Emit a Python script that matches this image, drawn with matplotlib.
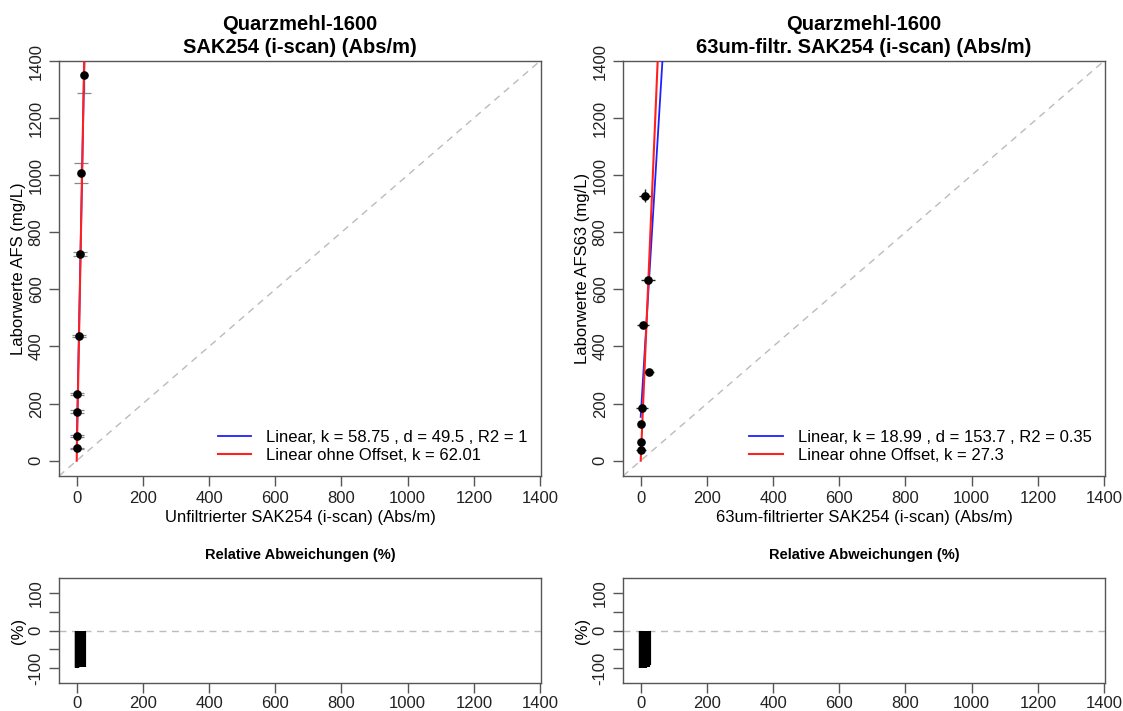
import numpy as np
import matplotlib
matplotlib.use('Agg')
import matplotlib.pyplot as plt

plt.rcParams['font.family'] = ['Liberation Sans', 'DejaVu Sans']

# --- data ---
# left: unfiltered SAK254 vs AFS
sak_x = [21, 14, 10, 7, 2, 2, 0, 1]
afs_y = [1350, 1008, 724, 437, 234, 172, 87, 43]
afs_yerr = [62, 34, 6, 5, 4, 4, 3, 3]
sak_xerr = [4, 4, 5, 5, 4, 4, 4, 4]
dev_left = [-98.4, -98.6, -98.6, -98.4, -99.1, -98.8, -100.0, -97.7]
k_left, d_left, r2_left, k0_left = 58.75, 49.5, 1, 62.01

# right: 63um-filtered SAK254 vs AFS63
sak63_x = [12, 22, 7, 25, 3, 1, 0, 0.5]
afs63_y = [928, 633, 476, 311, 186, 129, 65, 38]
afs63_yerr = [22, 10, 10, 8, 8, 6, 6, 6]
sak63_xerr = [18, 20, 18, 14, 18, 6, 6, 14]
dev_right = [-98.7, -96.5, -98.5, -92.0, -98.4, -99.2, -100.0, -98.7]
k_right, d_right, r2_right, k0_right = 18.99, 153.7, 0.35, 27.3

xticks = [0, 200, 400, 600, 800, 1000, 1200, 1400]
yticks = [0, 200, 400, 600, 800, 1000, 1200, 1400]
dev_ticks = [-100, -50, 0, 50, 100]
dev_labels = ['-100', '', '0', '', '100']

frame = '#555555'


def style_axes(ax, xpad=4):
    for s in ax.spines.values():
        s.set_color(frame)
        s.set_linewidth(1.0)
    ax.tick_params(direction='out', length=7, width=1.0, color=frame,
                   labelsize=12, labelcolor='#222222')
    ax.tick_params(axis='x', pad=xpad)
    ax.tick_params(axis='y', pad=4)
    for lab in ax.get_yticklabels():
        lab.set_rotation(90)
        lab.set_va('center')


def main_panel(ax, x, y, xerr, yerr, k, d, r2, k0, title2, xlabel, ylabel, ecol, ycap):
    ax.set_xlim(-53.5, 1403)
    ax.set_ylim(-53.6, 1400)
    ax.axline((0, 0), (1, 1), color='#bbbbbb', lw=1.0, dashes=(5, 4), zorder=1)
    xx = np.array([0, 80])
    ax.plot(xx, k * xx + d, color='#2020ff', lw=1.3, zorder=3,
            label='Linear, k = %s , d = %s , R2 = %s' % (k, d, r2))
    ax.plot(xx, k0 * xx, color='#ff2020', lw=1.5, zorder=4,
            label='Linear ohne Offset, k = %s' % k0)
    ax.errorbar(x, y, yerr=yerr, fmt='none', ecolor=ecol,
                elinewidth=1.0, capsize=ycap, capthick=0.9, zorder=2)
    ax.errorbar(x, y, xerr=xerr, fmt='none', ecolor='#222222',
                elinewidth=1.0, capsize=0, zorder=2)
    ax.plot(x, y, 'o', color='black', ms=5.2, zorder=5)
    ax.set_xticks(xticks)
    ax.set_yticks(yticks)
    ax.set_title('Quarzmehl-1600\n' + title2, fontsize=14.5, fontweight='bold',
                 pad=6, linespacing=1.25)
    ax.set_xlabel(xlabel, fontsize=12, labelpad=3)
    ax.set_ylabel(ylabel, fontsize=12, labelpad=2)
    ax.legend(loc='lower right', frameon=False, fontsize=12, handlelength=2.0,
              handletextpad=0.9, bbox_to_anchor=(1.0, 0.0), borderaxespad=0.4,
              labelspacing=0.15)
    style_axes(ax)


def dev_panel(ax, x, dev):
    ax.set_xlim(-53.5, 1403)
    ax.set_ylim(-140, 140)
    ax.axhline(0, color='#bbbbbb', lw=1.0, dashes=(5, 4), zorder=1)
    ax.vlines(x, 0, dev, color='black', lw=3, zorder=2)
    ax.set_xticks(xticks)
    ax.set_yticks(dev_ticks)
    ax.set_yticklabels(dev_labels)
    ax.set_title('Relative Abweichungen (%)', fontsize=10.5, fontweight='bold', pad=14)
    ax.set_ylabel('(%)', fontsize=12, labelpad=2)
    style_axes(ax, xpad=2)


fig = plt.figure(figsize=(11.23, 7.11), dpi=100)
axL = fig.add_axes([59 / 1123, (711 - 476) / 711, 482 / 1123, 415 / 711])
axR = fig.add_axes([623 / 1123, (711 - 476) / 711, 482 / 1123, 415 / 711])
axLb = fig.add_axes([59 / 1123, (711 - 683) / 711, 482 / 1123, 105 / 711])
axRb = fig.add_axes([623 / 1123, (711 - 683) / 711, 482 / 1123, 105 / 711])

main_panel(axL, sak_x, afs_y, sak_xerr, afs_yerr, k_left, d_left, r2_left, k0_left,
           'SAK254 (i-scan) (Abs/m)', 'Unfiltrierter SAK254 (i-scan) (Abs/m)',
           'Laborwerte AFS (mg/L)', '#888888', 5)
main_panel(axR, sak63_x, afs63_y, sak63_xerr, afs63_yerr, k_right, d_right, r2_right,
           k0_right, '63um-filtr. SAK254 (i-scan) (Abs/m)',
           '63um-filtrierter SAK254 (i-scan) (Abs/m)', 'Laborwerte AFS63 (mg/L)',
           '#222222', 0)
dev_panel(axLb, sak_x, dev_left)
dev_panel(axRb, sak63_x, dev_right)

fig.savefig('out.png', dpi=100)
